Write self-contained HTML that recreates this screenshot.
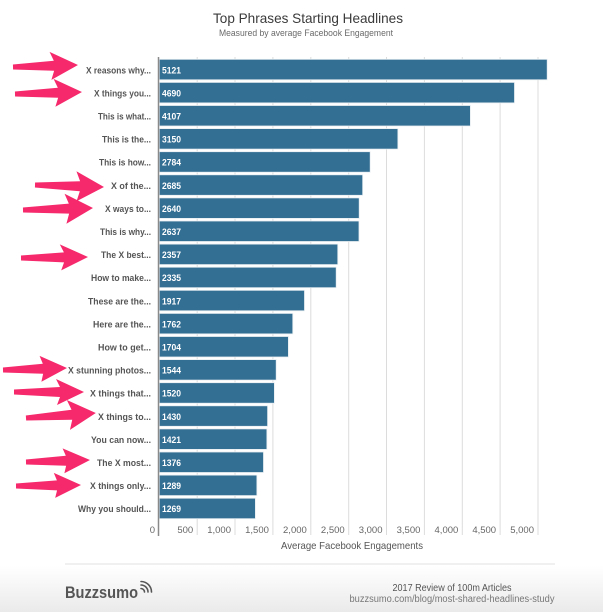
<!DOCTYPE html>
<html>
<head>
<meta charset="utf-8">
<style>
  html, body { margin:0; padding:0; background:#fff; }
  svg { display:block; font-family:"Liberation Sans", "DejaVu Sans", sans-serif; }
</style>
</head>
<body>
<svg width="603" height="612" viewBox="0 0 603 612" xmlns="http://www.w3.org/2000/svg">
  <defs>
    <linearGradient id="foot" x1="0" y1="0" x2="0" y2="1">
      <stop offset="0" stop-color="#ffffff"/>
      <stop offset="1" stop-color="#eaeaea"/>
    </linearGradient>
  </defs>
  <rect x="0" y="0" width="603" height="612" fill="#fff"/>
  <rect x="0" y="566" width="603" height="46" fill="url(#foot)"/>

  <!-- Titles -->
  <text x="308" y="23" text-anchor="middle" font-size="14" fill="#3a3a3a" textLength="190" lengthAdjust="spacingAndGlyphs">Top Phrases Starting Headlines</text>
  <text x="306" y="36" text-anchor="middle" font-size="9.5" fill="#6a6a6a" textLength="174" lengthAdjust="spacingAndGlyphs">Measured by average Facebook Engagement</text>

  <!-- Gridlines -->
  <g stroke="#dcdcdc" stroke-width="1">
    <line x1="197.2" y1="57" x2="197.2" y2="535"/>
    <line x1="235.0" y1="57" x2="235.0" y2="535"/>
    <line x1="272.9" y1="57" x2="272.9" y2="535"/>
    <line x1="310.8" y1="57" x2="310.8" y2="535"/>
    <line x1="348.7" y1="57" x2="348.7" y2="535"/>
    <line x1="386.5" y1="57" x2="386.5" y2="535"/>
    <line x1="424.4" y1="57" x2="424.4" y2="535"/>
    <line x1="462.3" y1="57" x2="462.3" y2="535"/>
    <line x1="500.1" y1="57" x2="500.1" y2="535"/>
    <line x1="538.0" y1="57" x2="538.0" y2="535"/>
  </g>

  <!-- Bars -->
  <g fill="#336e93" stroke="#e8eef2" stroke-width="0.8">
    <rect x="159.3" y="59.3" width="387.9" height="20.5"/>
    <rect x="159.3" y="82.4" width="355.2" height="20.5"/>
    <rect x="159.3" y="105.5" width="311.1" height="20.5"/>
    <rect x="159.3" y="128.6" width="238.6" height="20.5"/>
    <rect x="159.3" y="151.7" width="210.9" height="20.5"/>
    <rect x="159.3" y="174.8" width="203.4" height="20.5"/>
    <rect x="159.3" y="197.9" width="199.9" height="20.5"/>
    <rect x="159.3" y="221.0" width="199.7" height="20.5"/>
    <rect x="159.3" y="244.1" width="178.5" height="20.5"/>
    <rect x="159.3" y="267.2" width="176.9" height="20.5"/>
    <rect x="159.3" y="290.3" width="145.2" height="20.5"/>
    <rect x="159.3" y="313.4" width="133.5" height="20.5"/>
    <rect x="159.3" y="336.5" width="129.1" height="20.5"/>
    <rect x="159.3" y="359.6" width="116.9" height="20.5"/>
    <rect x="159.3" y="382.7" width="115.1" height="20.5"/>
    <rect x="159.3" y="405.8" width="108.3" height="20.5"/>
    <rect x="159.3" y="428.9" width="107.6" height="20.5"/>
    <rect x="159.3" y="452.0" width="104.2" height="20.5"/>
    <rect x="159.3" y="475.1" width="97.6" height="20.5"/>
    <rect x="159.3" y="498.2" width="96.1" height="20.5"/>
  </g>

  <!-- Axis line -->
  <line x1="158.5" y1="57" x2="158.5" y2="536" stroke="#8a8a8a" stroke-width="1.5"/>

  <!-- Value labels -->
  <g fill="#fff" font-size="9.5" font-weight="bold">
    <text x="162" y="73.3" textLength="19" lengthAdjust="spacingAndGlyphs">5121</text>
    <text x="162" y="96.4" textLength="19" lengthAdjust="spacingAndGlyphs">4690</text>
    <text x="162" y="119.5" textLength="19" lengthAdjust="spacingAndGlyphs">4107</text>
    <text x="162" y="142.6" textLength="19" lengthAdjust="spacingAndGlyphs">3150</text>
    <text x="162" y="165.7" textLength="19" lengthAdjust="spacingAndGlyphs">2784</text>
    <text x="162" y="188.8" textLength="19" lengthAdjust="spacingAndGlyphs">2685</text>
    <text x="162" y="211.9" textLength="19" lengthAdjust="spacingAndGlyphs">2640</text>
    <text x="162" y="235.0" textLength="19" lengthAdjust="spacingAndGlyphs">2637</text>
    <text x="162" y="258.1" textLength="19" lengthAdjust="spacingAndGlyphs">2357</text>
    <text x="162" y="281.2" textLength="19" lengthAdjust="spacingAndGlyphs">2335</text>
    <text x="162" y="304.3" textLength="19" lengthAdjust="spacingAndGlyphs">1917</text>
    <text x="162" y="327.4" textLength="19" lengthAdjust="spacingAndGlyphs">1762</text>
    <text x="162" y="350.5" textLength="19" lengthAdjust="spacingAndGlyphs">1704</text>
    <text x="162" y="373.6" textLength="19" lengthAdjust="spacingAndGlyphs">1544</text>
    <text x="162" y="396.7" textLength="19" lengthAdjust="spacingAndGlyphs">1520</text>
    <text x="162" y="419.8" textLength="19" lengthAdjust="spacingAndGlyphs">1430</text>
    <text x="162" y="442.9" textLength="19" lengthAdjust="spacingAndGlyphs">1421</text>
    <text x="162" y="466.0" textLength="19" lengthAdjust="spacingAndGlyphs">1376</text>
    <text x="162" y="489.1" textLength="19" lengthAdjust="spacingAndGlyphs">1289</text>
    <text x="162" y="512.2" textLength="19" lengthAdjust="spacingAndGlyphs">1269</text>
  </g>

  <!-- Category labels -->
  <g fill="#555" font-size="9.5" font-weight="bold" text-anchor="end">
    <text x="151" y="73.3" textLength="65" lengthAdjust="spacingAndGlyphs">X reasons why...</text>
    <text x="151" y="96.4" textLength="57" lengthAdjust="spacingAndGlyphs">X things you...</text>
    <text x="151" y="119.5" textLength="53" lengthAdjust="spacingAndGlyphs">This is what...</text>
    <text x="151" y="142.6" textLength="49" lengthAdjust="spacingAndGlyphs">This is the...</text>
    <text x="151" y="165.7" textLength="52" lengthAdjust="spacingAndGlyphs">This is how...</text>
    <text x="151" y="188.8" textLength="40" lengthAdjust="spacingAndGlyphs">X of the...</text>
    <text x="151" y="211.9" textLength="46" lengthAdjust="spacingAndGlyphs">X ways to...</text>
    <text x="151" y="235.0" textLength="51" lengthAdjust="spacingAndGlyphs">This is why...</text>
    <text x="151" y="258.1" textLength="50" lengthAdjust="spacingAndGlyphs">The X best...</text>
    <text x="151" y="281.2" textLength="60" lengthAdjust="spacingAndGlyphs">How to make...</text>
    <text x="151" y="304.3" textLength="63" lengthAdjust="spacingAndGlyphs">These are the...</text>
    <text x="151" y="327.4" textLength="58" lengthAdjust="spacingAndGlyphs">Here are the...</text>
    <text x="151" y="350.5" textLength="53" lengthAdjust="spacingAndGlyphs">How to get...</text>
    <text x="151" y="373.6" textLength="83" lengthAdjust="spacingAndGlyphs">X stunning photos...</text>
    <text x="151" y="396.7" textLength="61" lengthAdjust="spacingAndGlyphs">X things that...</text>
    <text x="151" y="419.8" textLength="53" lengthAdjust="spacingAndGlyphs">X things to...</text>
    <text x="151" y="442.9" textLength="60" lengthAdjust="spacingAndGlyphs">You can now...</text>
    <text x="151" y="466.0" textLength="54" lengthAdjust="spacingAndGlyphs">The X most...</text>
    <text x="151" y="489.1" textLength="61" lengthAdjust="spacingAndGlyphs">X things only...</text>
    <text x="151" y="512.2" textLength="73" lengthAdjust="spacingAndGlyphs">Why you should...</text>
  </g>

  <!-- X tick labels -->
  <g fill="#666" font-size="9.5" text-anchor="end">
    <text x="155" y="533">0</text>
    <text x="193.2" y="533">500</text>
    <text x="231.0" y="533">1,000</text>
    <text x="268.9" y="533">1,500</text>
    <text x="306.8" y="533">2,000</text>
    <text x="344.7" y="533">2,500</text>
    <text x="382.5" y="533">3,000</text>
    <text x="420.4" y="533">3,500</text>
    <text x="458.3" y="533">4,000</text>
    <text x="496.1" y="533">4,500</text>
    <text x="534.0" y="533">5,000</text>
  </g>
  <text x="352" y="549" text-anchor="middle" font-size="10.5" fill="#555" textLength="142" lengthAdjust="spacingAndGlyphs">Average Facebook Engagements</text>

  <!-- Arrows -->
  <g fill="#f5296b">
    <g transform="translate(13,67) rotate(-1.76)"><polygon points="0,-2.5 41,-5 37,-14 65,0 38,14 41,5 0,2.5"/></g>
    <g transform="translate(15,94) rotate(-1.71)"><polygon points="0,-2.5 43,-5 39,-14 67,0 40,14 43,5 0,2.5"/></g>
    <g transform="translate(35,185) rotate(1.66)"><polygon points="0,-2.5 45,-5 41,-15 69,0 42,15 45,5 0,2.5"/></g>
    <g transform="translate(23,210) rotate(-1.64)"><polygon points="0,-2.5 46,-5 42,-15 70,0 43,15 46,5 0,2.5"/></g>
    <g transform="translate(21,258) rotate(-0.86)"><polygon points="0,-2.5 43,-5 39,-13 67,0 40,13 43,5 0,2.5"/></g>
    <g transform="translate(3,370) rotate(-1.79)"><polygon points="0,-2.5 40,-5 37,-13 64,0 38,13 40,5 0,2.5"/></g>
    <g transform="translate(14,392) rotate(0)"><polygon points="0,-2.5 46,-5 42,-13 70,0 43,13 46,5 0,2.5"/></g>
    <g transform="translate(26,418) rotate(-4.09)"><polygon points="0,-2.5 46,-5 42,-15 70,0 43,15 46,5 0,2.5"/></g>
    <g transform="translate(26,462) rotate(-1.79)"><polygon points="0,-2.5 40,-5 37,-12.5 64,0 38,12.5 40,5 0,2.5"/></g>
    <g transform="translate(16,486) rotate(-0.88)"><polygon points="0,-2.5 41,-5 38,-12.5 65,0 39,12.5 41,5 0,2.5"/></g>
  </g>

  <!-- Footer -->
  <line x1="65" y1="564" x2="555" y2="564" stroke="#ececec" stroke-width="1.5"/>
  <text x="65" y="598" font-size="17" font-weight="bold" fill="#555" textLength="73" lengthAdjust="spacingAndGlyphs">Buzzsumo</text>
  <g fill="none" stroke="#555" stroke-width="1.6" stroke-linecap="round">
    <path d="M141,588.5 A3.5,3.5 0 0 1 144.5,592"/>
    <path d="M141,585 A7,7 0 0 1 148,592"/>
    <path d="M141,581.5 A10.5,10.5 0 0 1 151.5,592"/>
  </g>
  <text x="452" y="591" text-anchor="middle" font-size="10" fill="#555" textLength="119" lengthAdjust="spacingAndGlyphs">2017 Review of 100m Articles</text>
  <text x="452" y="602" text-anchor="middle" font-size="10" fill="#777" textLength="205" lengthAdjust="spacingAndGlyphs">buzzsumo.com/blog/most-shared-headlines-study</text>
</svg>
</body>
</html>
